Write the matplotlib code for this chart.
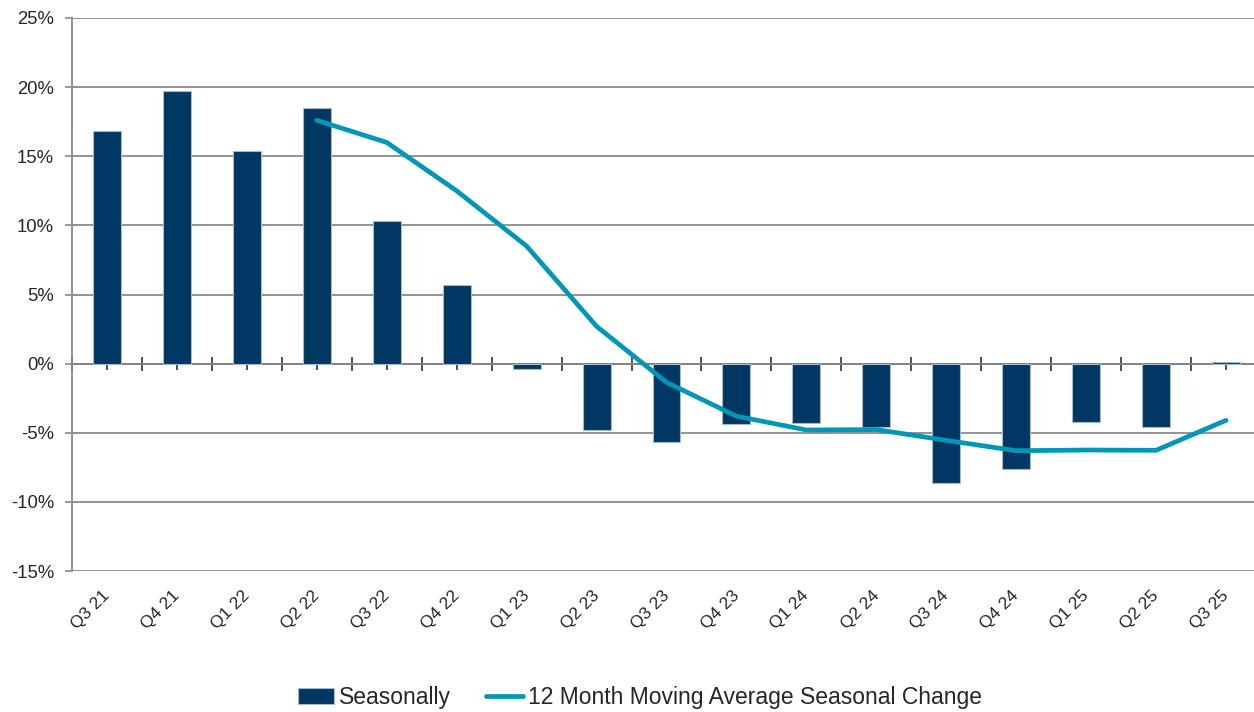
import matplotlib
matplotlib.use("Agg")
import matplotlib.pyplot as plt
import matplotlib.transforms as mtransforms
import numpy as np
from matplotlib.ticker import FixedLocator, FuncFormatter

plt.rcParams['font.family'] = ['Liberation Sans', 'DejaVu Sans']

categories = ["Q3 21", "Q4 21", "Q1 22", "Q2 22", "Q3 22", "Q4 22", "Q1 23", "Q2 23",
              "Q3 23", "Q4 23", "Q1 24", "Q2 24", "Q3 24", "Q4 24", "Q1 25", "Q2 25", "Q3 25"]
seasonally = [16.8, 19.7, 15.4, 18.5, 10.3, 5.7, -0.4, -4.8,
              -5.7, -4.4, -4.3, -4.6, -8.6, -7.6, -4.2, -4.6, 0.1]
moving_avg = [np.nan, np.nan, np.nan, 17.6, 16.0, 12.5, 8.5, 2.7,
              -1.35, -3.8, -4.8, -4.77, -5.55, -6.3, -6.25, -6.27, -4.1]
y_ticks = [-15, -10, -5, 0, 5, 10, 15, 20, 25]

BAR = "#003763"
LINE = "#0097B6"
GRID = "#8a8a8a"
TXT = "#262626"

fig = plt.figure(figsize=(12.54, 7.12), dpi=100)
ax = fig.add_axes([72/1254, 1-571/712, 1-72/1254, (571-18)/712])

x = np.arange(len(categories))
bars = ax.bar(x, seasonally, width=0.4, color=BAR, edgecolor="#a9b8c8", linewidth=0.8,
              label="Seasonally", zorder=3)
line, = ax.plot(x, moving_avg, color=LINE, linewidth=3.4, solid_capstyle='round',
                label="12 Month Moving Average Seasonal Change", zorder=4)

ax.set_ylim(-15, 25)
ax.set_xlim(-0.5, -0.5 + 1182/69.94)
ax.set_yticks(y_ticks)
ax.yaxis.set_major_formatter(FuncFormatter(lambda v, p: f"{int(v)}%"))
ax.yaxis.grid(True, color=GRID, linewidth=1.3, zorder=0)
ax.set_axisbelow(True)

for s in ["top", "right", "bottom"]:
    ax.spines[s].set_visible(False)
ax.spines["left"].set_color(GRID)
ax.spines["left"].set_linewidth(1.3)

ax.tick_params(axis='y', length=5, width=1.2, color=GRID, labelsize=13.3, labelcolor=TXT, pad=8)
ax.set_xticks(x)
ax.set_xticklabels(categories, rotation=45, ha='right', rotation_mode='anchor',
                   fontsize=12.5, color=TXT)
ax.tick_params(axis='x', length=0, pad=12)
off = mtransforms.ScaledTranslation(-5/100, 0, fig.dpi_scale_trans)
for lbl in ax.get_xticklabels():
    lbl.set_transform(lbl.get_transform() + off)

# zero axis with tick marks
sec = ax.secondary_xaxis(15/40)
sec.spines['bottom'].set_color("#333333")
sec.spines['bottom'].set_linewidth(1.3)
sec.xaxis.set_major_locator(FixedLocator(np.arange(-0.5, len(categories), 1.0)))
sec.xaxis.set_minor_locator(FixedLocator(x))
sec.tick_params(which='major', direction='inout', length=10, width=1.2, color="#333333",
                labelbottom=False)
sec.tick_params(which='minor', direction='out', length=4, width=1.2, color="#333333")
sec.set_xticklabels([])

leg = fig.legend([bars, line], [bars.get_label(), line.get_label()], loc='center',
                 bbox_to_anchor=(0.51, 0.021), ncol=2,
                 frameon=False, fontsize=16.5, handlelength=1.6, handletextpad=0.2,
                 columnspacing=1.55, labelcolor=TXT)

fig.savefig("out.png", dpi=100)
